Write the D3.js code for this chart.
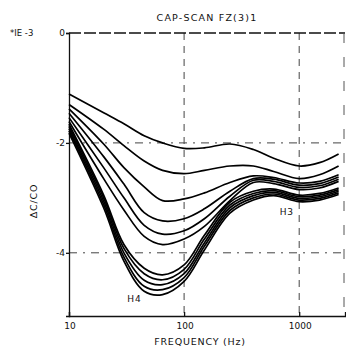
<!DOCTYPE html>
<html>
<head>
<meta charset="utf-8">
<script src="https://cdn.jsdelivr.net/npm/d3@7/dist/d3.min.js"></script>
<style>
  html, body { margin: 0; padding: 0; background: #fff; }
  svg text { font-family: "DejaVu Sans", sans-serif; fill: #111; }
</style>
</head>
<body>
<svg id="chart" width="346" height="350"></svg>
<script>
const freqs = [10, 20, 30, 45, 65, 100, 150, 250, 400, 600, 1000, 1500, 2200];

// delta C / C0 (x1E-3), top curve first
const c1 = [-1.11, -1.45, -1.65, -1.87, -2.00, -2.10, -2.09, -2.02, -2.12, -2.28, -2.42, -2.36, -2.20];
const c2 = [-1.30, -1.75, -2.05, -2.33, -2.50, -2.56, -2.50, -2.42, -2.42, -2.52, -2.65, -2.58, -2.42];
const c3 = [-1.38, -2.02, -2.45, -2.80, -3.05, -3.02, -2.91, -2.72, -2.60, -2.63, -2.73, -2.70, -2.58];
const c4 = [-1.46, -2.25, -2.75, -3.27, -3.42, -3.38, -3.20, -2.88, -2.65, -2.66, -2.77, -2.74, -2.62];
const c5 = [-1.54, -2.45, -3.00, -3.50, -3.66, -3.60, -3.38, -2.97, -2.68, -2.70, -2.81, -2.78, -2.66];
const c6 = [-1.61, -2.65, -3.22, -3.70, -3.85, -3.75, -3.52, -3.05, -2.72, -2.74, -2.85, -2.82, -2.70];
const h4a = [-1.66, -2.95, -3.85, -4.28, -4.40, -4.22, -3.68, -3.08, -2.88, -2.84, -2.95, -2.92, -2.82];
const h4b = [-1.70, -3.00, -3.92, -4.38, -4.49, -4.30, -3.75, -3.13, -2.92, -2.87, -2.98, -2.95, -2.85];
const h4c = [-1.74, -3.06, -4.00, -4.50, -4.58, -4.38, -3.82, -3.18, -2.96, -2.90, -3.01, -2.98, -2.88];
const h4d = [-1.78, -3.12, -4.08, -4.61, -4.67, -4.45, -3.88, -3.23, -3.00, -2.93, -3.04, -3.01, -2.91];
const h4e = [-1.82, -3.18, -4.15, -4.70, -4.76, -4.52, -3.95, -3.28, -3.04, -2.96, -3.07, -3.04, -2.94];

const curves = [c1, c2, c3, c4, c5, c6, h4a, h4b, h4c, h4d, h4e];

const xTicks = [10, 100, 1000];
const xTickLabels = ["10", "100", "1000"];
const yTicks = [0, -2, -4];
const yTickLabels = ["0", "-2", "-4"];

const svg = d3.select("#chart");

const margin = { top: 33, right: 1, bottom: 34, left: 69 };
const width = 346 - margin.left - margin.right,
  height = 350 - margin.top - margin.bottom;

const x = d3.scaleLog().domain([10, 2500]).range([margin.left, margin.left + width]);
const y = d3.scaleLinear().domain([-5.15, 0]).range([margin.top + height, margin.top]);

// grid lines
svg.append("g")
  .selectAll("line")
  .data(xTicks.slice(1))
  .join("line")
  .attr("x1", (d) => x(d)).attr("x2", (d) => x(d))
  .attr("y1", y(0)).attr("y2", y(-5.15))
  .attr("stroke", "#444")
  .attr("stroke-width", 1)
  .attr("stroke-dasharray", "7,6");

svg.append("g")
  .selectAll("line")
  .data(yTicks.slice(1))
  .join("line")
  .attr("x1", x(10)).attr("x2", x(2500))
  .attr("y1", (d) => y(d)).attr("y2", (d) => y(d))
  .attr("stroke", "#444")
  .attr("stroke-width", 1)
  .attr("stroke-dasharray", "8,6,2,6");

// dashed zero line along the top and right edge
svg.append("line")
  .attr("x1", x(10)).attr("x2", x(2500))
  .attr("y1", y(0)).attr("y2", y(0))
  .attr("stroke", "#111")
  .attr("stroke-width", 1.6)
  .attr("stroke-dasharray", "12,3");

svg.append("line")
  .attr("x1", x(2500) - 1).attr("x2", x(2500) - 1)
  .attr("y1", y(0)).attr("y2", y(-5.15))
  .attr("stroke", "#555")
  .attr("stroke-width", 1)
  .attr("stroke-dasharray", "10,14");

// axes
svg.append("g")
  .attr("transform", `translate(0,${y(-5.15)})`)
  .call(d3.axisBottom(x).tickValues(xTicks).tickSize(-4).tickFormat(""))
  .call((g) => g.selectAll("path,line").attr("stroke", "#111").attr("stroke-width", 1.3));

svg.append("g")
  .attr("transform", `translate(${x(10)},0)`)
  .call(d3.axisLeft(y).tickValues(yTicks).tickSize(3).tickFormat(""))
  .call((g) => g.selectAll("path,line").attr("stroke", "#111").attr("stroke-width", 1.3));

// tick labels
svg.append("g")
  .selectAll("text")
  .data(xTicks)
  .join("text")
  .attr("x", (d) => x(d) + 1)
  .attr("y", y(-5.15) + 13)
  .attr("text-anchor", "middle")
  .style("font-size", "9px")
  .text((d, i) => xTickLabels[i]);

svg.append("g")
  .selectAll("text")
  .data(yTicks)
  .join("text")
  .attr("x", x(10) - 4)
  .attr("y", (d) => y(d) + 3)
  .attr("text-anchor", "end")
  .style("font-size", "9px")
  .text((d, i) => yTickLabels[i]);

// curves
const line = d3.line()
  .x((d, i) => x(freqs[i]))
  .y((d) => y(d))
  .curve(d3.curveCatmullRom.alpha(0.5));

svg.append("g")
  .selectAll("path")
  .data(curves)
  .join("path")
  .attr("fill", "none")
  .attr("stroke", "#000")
  .attr("stroke-width", 1.7)
  .attr("stroke-linejoin", "round")
  .attr("d", line);

// texts
svg.append("text")
  .attr("x", 207).attr("y", 21)
  .attr("text-anchor", "middle")
  .style("font-size", "9.5px")
  .style("letter-spacing", "1.2px")
  .text("CAP-SCAN  FZ(3)1");

svg.append("text")
  .attr("x", 10).attr("y", 36)
  .style("font-size", "8.5px")
  .text("*IE -3");

svg.append("text")
  .attr("transform", "translate(37,201) rotate(-90)")
  .attr("text-anchor", "middle")
  .style("font-size", "9.5px")
  .style("letter-spacing", "0.8px")
  .text("ΔC/CO");

svg.append("text")
  .attr("x", 200).attr("y", 345)
  .attr("text-anchor", "middle")
  .style("font-size", "9.5px")
  .style("letter-spacing", "0.8px")
  .text("FREQUENCY (Hz)");

svg.append("text")
  .attr("x", x(780)).attr("y", 215)
  .attr("text-anchor", "middle")
  .style("font-size", "9px")
  .style("letter-spacing", "0.8px")
  .text("H3");

svg.append("text")
  .attr("x", x(37)).attr("y", 302)
  .attr("text-anchor", "middle")
  .style("font-size", "9px")
  .style("letter-spacing", "0.8px")
  .text("H4");
</script>
</body>
</html>
